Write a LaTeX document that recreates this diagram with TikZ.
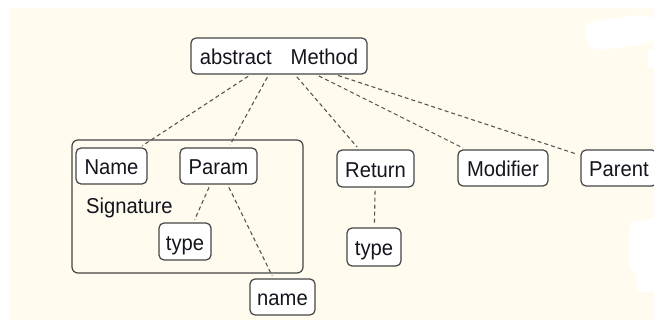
\documentclass[tikz,border=0pt]{standalone}
\usepackage{fontspec}
\setmainfont{Liberation Sans}[FakeStretch=0.94]
\definecolor{paper}{RGB}{255,252,239}
\definecolor{frame}{RGB}{68,68,68}
\definecolor{link}{RGB}{85,85,85}
\definecolor{ink}{RGB}{20,20,30}
\tikzset{
  box/.style={draw=frame, line width=1.2pt, fill=white, rounded corners=5pt,
    inner sep=0pt, text height=18pt, text depth=0pt, text=ink,
    font=\fontsize{21.5}{24}\selectfont},
  group/.style={draw=frame, line width=1.2pt, rounded corners=6pt, inner sep=0pt},
  conn/.style={draw=link, line width=1.1pt, dash pattern=on 4pt off 3pt,
    shorten <=3pt, shorten >=3pt},
}
\begin{document}
\begin{tikzpicture}[x=1pt,y=-1pt]
\useasboundingbox (0,0) rectangle (654,320);
\clip (0,0) rectangle (654,320);
% page
\fill[white] (0,0) rectangle (654,320);
\fill[paper] (9,8) rectangle (654,320);
% blank patches on the right edge
\fill[white] (585,24) -- (600,20) -- (640,15) -- (652,17) -- (654,20) -- (654,40)
  -- (640,45) -- (600,50) -- (590,46) -- (585,34) -- cycle;
\fill[white] (648,50) rectangle (654,68);
\fill[white] (633,222) -- (654,218) -- (654,292) -- (637,292) -- (637,275)
  -- (629,268) -- (629,228) -- cycle;

% signature group
\node[group, minimum width=231pt, minimum height=133pt] (sig) at (187.5,206.5) {};
\node[anchor=base west, inner sep=0pt, text=ink, font=\fontsize{21.5}{24}\selectfont]
  (siglabel) at (86,213.5) {Signature};

% nodes
\node[box, minimum width=176pt, minimum height=36pt] (am) at (279,56) {abstract\hspace{19pt}Method};
\node[box, minimum width=71pt, minimum height=36pt] (nm) at (111.5,166) {Name};
\node[box, minimum width=77pt, minimum height=36pt] (param) at (218.5,166) {Param};
\node[box, minimum width=52pt, minimum height=37pt] (ptype) at (185,241.5) {type};
\node[box, minimum width=65pt, minimum height=36pt] (pname) at (282.5,297) {name};
\node[box, minimum width=77pt, minimum height=37pt] (ret) at (375.5,168.5) {Return};
\node[box, minimum width=54pt, minimum height=38pt] (rtype) at (374,247) {type};
\node[box, minimum width=90pt, minimum height=36pt] (mod) at (503,168) {Modifier};
\node[box, minimum width=76pt, minimum height=36pt] (par) at (619,168) {Parent};

% connectors
\draw[conn] (am) -- (nm);
\draw[conn] (am) -- (param);
\draw[conn] (am) -- (ret);
\draw[conn] (am) -- (mod);
\draw[conn] (am) -- (par);
\draw[conn] (param) -- (ptype);
\draw[conn] (param) -- (pname);
\draw[conn] (ret) -- (rtype);
\end{tikzpicture}
\end{document}
